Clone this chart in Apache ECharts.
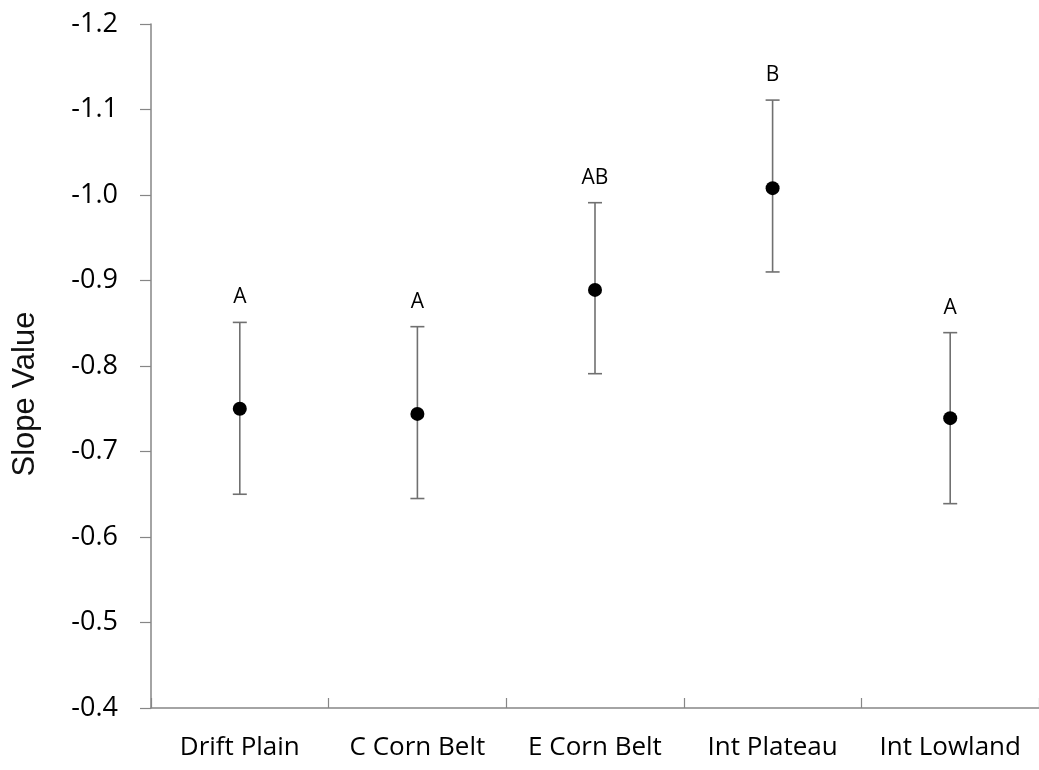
<!DOCTYPE html>
<html>
<head>
<meta charset="utf-8">
<script src="https://cdn.jsdelivr.net/npm/echarts@6/dist/echarts.min.js"></script>
<style>html,body{margin:0;padding:0;background:#fff;}#c{width:1039px;height:770px;}</style>
</head>
<body>
<div id="c"></div>
<script>
var categories = ['Drift Plain', 'C Corn Belt', 'E Corn Belt', 'Int Plateau', 'Int Lowland'];
var means = [-0.750, -0.744, -0.889, -1.008, -0.739];
var errHigh = [-0.851, -0.846, -0.991, -1.111, -0.839];
var errLow = [-0.650, -0.645, -0.791, -0.910, -0.639];
var letters = ['A', 'A', 'AB', 'B', 'A'];
var yTicks = [-1.2, -1.1, -1.0, -0.9, -0.8, -0.7, -0.6, -0.5, -0.4];
var yTitle = 'Slope Value';

var chart = echarts.init(document.getElementById('c'));
var errData = categories.map(function (c, i) { return [i, errLow[i], errHigh[i], letters[i]]; });

chart.setOption({
  animation: false,
  backgroundColor: '#fff',
  grid: { left: 151, top: 24, width: 893, bottom: 62, containLabel: false },
  graphic: [{
    type: 'text', x: 25, y: 394, rotation: Math.PI / 2,
    style: { text: yTitle, font: '31px "Liberation Sans"', fill: '#111', align: 'center', verticalAlign: 'middle' }
  }],
  xAxis: {
    type: 'category',
    data: categories,
    boundaryGap: true,
    axisLine: { lineStyle: { color: '#868686', width: 1.5 } },
    axisTick: { show: true, inside: true, length: 10, interval: 0, lineStyle: { color: '#868686', width: 1.2 } },
    axisLabel: { fontFamily: 'Open Sans', fontSize: 26, color: '#000', margin: 27, interval: 0, hideOverlap: false },
    splitLine: { show: false }
  },
  yAxis: {
    type: 'value',
    inverse: true,
    min: yTicks[0],
    max: yTicks[yTicks.length - 1],
    interval: 0.1,
    axisLine: { show: true, lineStyle: { color: '#868686', width: 1.5 } },
    axisTick: { show: true, inside: false, length: 11, lineStyle: { color: '#868686', width: 1.2 } },
    axisLabel: {
      fontFamily: 'Open Sans', fontSize: 27, color: '#000', margin: 33,
      formatter: function (v) { return v.toFixed(1); }
    },
    splitLine: { show: false }
  },
  series: [
    {
      type: 'custom',
      data: errData,
      z: 2,
      renderItem: function (params, api) {
        var x = api.value(0);
        var lo = api.coord([x, api.value(1)]);
        var hi = api.coord([x, api.value(2)]);
        var hw = 7;
        var style = { stroke: '#707070', lineWidth: 1.6 };
        return {
          type: 'group',
          children: [
            { type: 'line', shape: { x1: lo[0], y1: lo[1], x2: hi[0], y2: hi[1] }, style: style },
            { type: 'line', shape: { x1: lo[0] - hw, y1: lo[1], x2: lo[0] + hw, y2: lo[1] }, style: style },
            { type: 'line', shape: { x1: hi[0] - hw, y1: hi[1], x2: hi[0] + hw, y2: hi[1] }, style: style },
            { type: 'text', x: hi[0], y: hi[1] - 25,
              style: { text: letters[params.dataIndex], fill: '#000', font: '21px "Open Sans"', align: 'center', verticalAlign: 'middle' } }
          ]
        };
      }
    },
    {
      type: 'scatter',
      data: means,
      symbol: 'circle',
      symbolSize: 14,
      z: 3,
      itemStyle: { color: '#000', opacity: 1 }
    }
  ]
});
</script>
</body>
</html>
